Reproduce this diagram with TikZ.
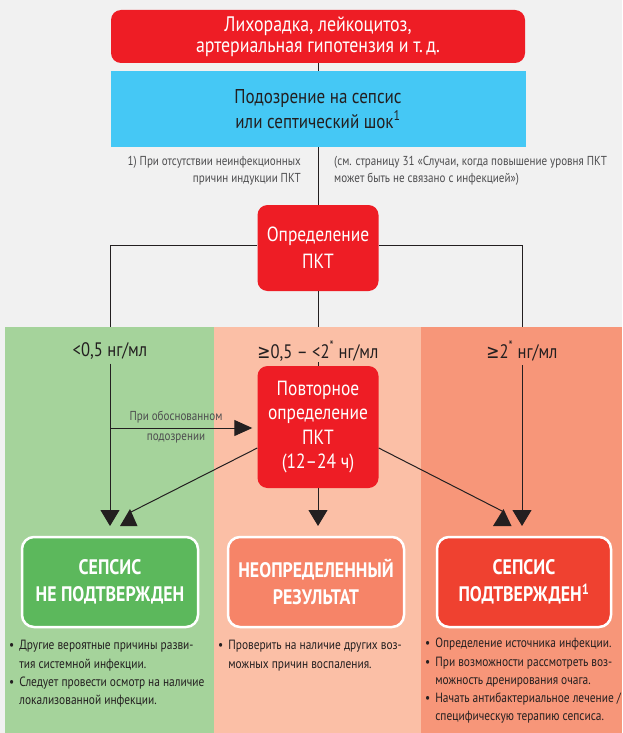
\documentclass[tikz,border=0pt]{standalone}
\usepackage{fontspec}
\setmainfont{PT Sans}[FakeStretch=0.85]
\newfontfamily\symfont{DejaVu Sans}[FakeStretch=0.8]
\usetikzlibrary{arrows.meta}
\definecolor{bg}{HTML}{F1F1F1}
\definecolor{pkred}{HTML}{EE1D25}
\definecolor{cyanb}{HTML}{45C8F5}
\definecolor{bandg}{HTML}{A5D39B}
\definecolor{bandm}{HTML}{FBBFA6}
\definecolor{bandr}{HTML}{F79679}
\definecolor{boxg}{HTML}{5CB85C}
\definecolor{boxm}{HTML}{F68468}
\definecolor{boxr}{HTML}{EF4130}
\definecolor{textc}{HTML}{231F20}
\definecolor{greyt}{HTML}{4D4D4F}
\definecolor{linec}{HTML}{231F20}
\begin{document}
\begin{tikzpicture}[x=1pt,y=-1pt,
  redbox/.style={fill=pkred, rounded corners=10pt, text=white, align=center, inner sep=0pt, font=\fontsize{21}{21}\selectfont},
  lbl/.style={text=textc, inner sep=1pt, font=\fontsize{19.5}{21}\selectfont},
  foot/.style={text=greyt, inner sep=0pt, font=\fontsize{13}{17.5}\selectfont},
  resbox/.style={rounded corners=12pt, draw=white, line width=2.5pt, text=white, align=center, inner sep=0pt, minimum height=90pt, font=\bfseries\fontsize{21}{27}\selectfont},
  bul/.style={text=textc, inner sep=0pt, anchor=north west, font=\fontsize{13.4}{18.2}\selectfont},
  conn/.style={draw=linec, line width=1pt},
  arr/.style={conn, -{Triangle[width=19pt,length=16pt]}},
  arrh/.style={conn, -{Triangle[width=16pt,length=18pt]}}]
\fill[bg] (0,0) rectangle (622,733);
\useasboundingbox (0,0) rectangle (622,733);
\fill[bandg] (5,327) rectangle (214,733);
\fill[bandm] (214,327) rectangle (421,733);
\fill[bandr] (421,327) rectangle (622,733);

\node[redbox, minimum width=414pt, minimum height=53pt] (top) at (318,36.5) {Лихорадка, лейкоцитоз,\\артериальная гипотензия и т.\,д.};
\node[fill=cyanb, minimum width=415pt, minimum height=76pt, align=center, inner sep=0pt, text=textc, font=\fontsize{20}{25}\selectfont] (susp) at (318,109) {Подозрение на сепсис\\или септический шок\textsuperscript{1}};

\node[foot, anchor=north east, align=right] (fn1) at (301,156) {1) При отсутствии неинфекционных\\причин индукции ПКТ};
\node[foot, anchor=north west, align=left] (fn2) at (334,156) {(см. страницу 31 «Случаи, когда повышение уровня ПКТ\\может быть не связано с инфекцией»)};

\node[redbox, minimum width=121pt, minimum height=86pt, font=\fontsize{20.5}{27}\selectfont] (pkt) at (318,248) {Определение\\ПКТ};

\draw[conn] (top.south) -- (susp.north);
\draw[conn] (susp.south) -- (pkt.north);
\coordinate (b1) at (110,327);
\coordinate (b2) at (318,327);
\coordinate (b3) at (522,327);
\draw[conn] ([yshift=3pt]pkt.west) -| (b1);
\draw[conn] ([yshift=3pt]pkt.east) -| (b3);
\draw[conn] (pkt.south) -- (b2);

\node[lbl] (l1) at (110,351) {<0,5 нг/мл};
\node[lbl] (l2) at (318,351) {{\symfont ≥}0,5 – <2\textsuperscript{*} нг/мл};
\node[lbl] (l3) at (522,351) {{\symfont ≥}2\textsuperscript{*} нг/мл};

\node[redbox, minimum width=121pt, minimum height=122pt, font=\fontsize{20.5}{24.5}\selectfont] (rep) at (318,427) {Повторное\\определение\\ПКТ\\(12–24 ч)};
\draw[conn] (l2.south) -- (rep.north);

\coordinate (t1) at (110,526);
\coordinate (t2) at (318,526);
\coordinate (t3) at (522,526);
\draw[arr, shorten <=3pt] (l1.south) -- (t1);
\draw[arr] (rep.south) -- (t2);
\draw[arr, shorten <=3pt] (l3.south) -- (t3);

\coordinate (h1) at (110,428);
\draw[arrh, shorten >=5pt] (h1) -- (rep.west |- h1);
\node[foot, text=greyt] (obs1) at (176,417) {При обоснованном};
\node[foot, text=greyt] (obs2) at (176,438) {подозрении};

\coordinate (d1) at (131,512);
\coordinate (d3) at (504,512);
\draw[conn] ([yshift=-21pt]rep.west) -- (d1);
\draw[conn] ([yshift=-21pt]rep.east) -- (d3);
\fill[linec] (120,526) -- (137.5,526) -- (130,509) -- cycle;
\fill[linec] (493,526) -- (511.5,526) -- (503.5,509) -- cycle;

\node[resbox, fill=boxg, minimum width=176pt] (r1) at (110,582) {СЕПСИС\\НЕ ПОДТВЕРЖДЕН};
\node[resbox, fill=boxm, minimum width=176pt] (r2) at (316,582) {НЕОПРЕДЕЛЕННЫЙ\\РЕЗУЛЬТАТ};
\node[resbox, fill=boxr, minimum width=174pt] (r3) at (524,582) {СЕПСИС\\ПОДТВЕРЖДЕН\textsuperscript{1}};

\node[bul] (n1) at (9,637) {\begin{tabular}{@{}l@{\hspace{5pt}}l@{}}
•&Другие вероятные причины разви-\\
&тия системной инфекции.\\
•&Следует провести осмотр на наличие\\
&локализованной инфекции.
\end{tabular}};
\node[bul] (n2) at (218,637) {\begin{tabular}{@{}l@{\hspace{5pt}}l@{}}
•&Проверить на наличие других воз-\\
&можных причин воспаления.
\end{tabular}};
\node[bul] (n3) at (425,635) {\begin{tabular}{@{}l@{\hspace{5pt}}l@{}}
•&Определение источника инфекции.\\
•&При возможности рассмотреть воз-\\
&можность дренирования очага.\\
•&Начать антибактериальное лечение /\\
&специфическую терапию сепсиса.
\end{tabular}};
\end{tikzpicture}
\end{document}
